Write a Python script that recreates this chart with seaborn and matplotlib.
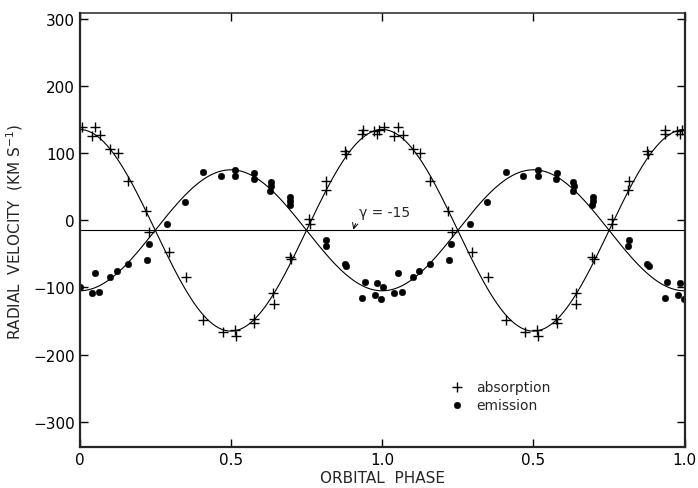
import numpy as np
import pandas as pd
import seaborn as sns
import matplotlib.pyplot as plt

# Measured radial velocities, one orbital cycle (phase 0-1), drawn twice
abs_phase = [0.007, 0.040, 0.051, 0.068, 0.101, 0.126, 0.159, 0.218, 0.230,
             0.296, 0.351, 0.409, 0.473, 0.513, 0.516, 0.575, 0.577, 0.640,
             0.642, 0.695, 0.700, 0.758, 0.761, 0.815, 0.814, 0.876, 0.880,
             0.936, 0.935, 0.973, 0.990, 0.983]
abs_vel = [138, 125, 139, 127, 106, 100, 59, 14, -18,
           -48, -84, -149, -166, -164, -172, -147, -153, -109,
           -125, -55, -58, 2, -6, 59, 45, 103, 98,
           134, 128, 132, 134, 128]

em_phase = [0.040, 0.065, 0.051, 0.101, 0.123, 0.159, 0.222, 0.229, 0.290,
            0.348, 0.408, 0.466, 0.515, 0.515, 0.577, 0.576, 0.632, 0.634,
            0.630, 0.697, 0.696, 0.695, 0.815, 0.813, 0.876, 0.882, 0.942,
            0.984, 0.003, 0.935, 0.978, 0.997]
em_vel = [-108, -107, -79, -84, -75, -65, -59, -35, -5,
          27, 71, 66, 74, 66, 70, 62, 57, 51,
          43, 35, 29, 22, -29, -38, -65, -68, -92,
          -94, -100, -115, -111, -117]

# orbital solution
gamma = -15
k_abs = 150
k_em = 90

xtick_pos = [0, 0.5, 1.0, 1.5, 2.0]
xtick_lab = ["0", "0.5", "1.0", "0.5", "1.0"]
ytick_pos = [-300, -200, -100, 0, 100, 200, 300]


def two_cycles(phase, vel, kind):
    p = np.asarray(phase)
    return pd.DataFrame({"phase": np.concatenate([p, p + 1]),
                         "vel": np.concatenate([vel, vel]),
                         "kind": kind})


absorb = two_cycles(abs_phase, abs_vel, "absorption")
emit = two_cycles(em_phase, em_vel, "emission")

ph = np.linspace(0, 2, 400)
fit = pd.DataFrame({"phase": ph,
                    "abs": gamma + k_abs * np.cos(2 * np.pi * ph),
                    "em": gamma - k_em * np.cos(2 * np.pi * ph)})

sns.set_style("ticks")
plt.rcParams["font.family"] = ["DejaVu Sans"]

fig = plt.figure(figsize=(6.98, 4.89), dpi=100)
ax = fig.add_axes([0.114, 0.083, 0.867, 0.888])

sns.lineplot(data=fit, x="phase", y="abs", color="black", lw=0.8, ax=ax)
sns.lineplot(data=fit, x="phase", y="em", color="black", lw=0.8, ax=ax)
ax.axhline(gamma, color="black", lw=0.8)

sns.scatterplot(data=absorb, x="phase", y="vel", marker="+", s=55,
                color="black", linewidth=1.0, label="absorption", ax=ax)
sns.scatterplot(data=emit, x="phase", y="vel", marker="o", s=22,
                color="black", edgecolor="black", label="emission", ax=ax)

ax.annotate("γ = -15", xy=(0.905, -14), xytext=(0.925, 12),
            fontsize=10, ha="left", va="center",
            arrowprops=dict(arrowstyle="->", color="black", lw=0.7,
                            connectionstyle="arc3,rad=0.5",
                            shrinkA=1, shrinkB=0))

ax.set_xlim(0, 2)
ax.set_ylim(-338, 308)
ax.set_xticks(xtick_pos)
ax.set_xticklabels(xtick_lab)
ax.set_yticks(ytick_pos)
ax.tick_params(direction="in", top=True, right=True, labelsize=11,
               length=6, width=1.0, colors="black")
ax.set_xlabel("ORBITAL  PHASE", fontsize=11, labelpad=2)
ax.set_ylabel("RADIAL  VELOCITY  (KM S$^{-1}$)", fontsize=11, labelpad=6)

for side in ["left", "bottom", "right"]:
    ax.spines[side].set_linewidth(1.6)
ax.spines["top"].set_linewidth(1.1)

ax.legend(loc="upper left", bbox_to_anchor=(0.595, 0.171), frameon=False,
          fontsize=10, handletextpad=0.6, labelspacing=0.25, borderpad=0,
          handlelength=1.5)

fig.savefig("out.png", dpi=100)
